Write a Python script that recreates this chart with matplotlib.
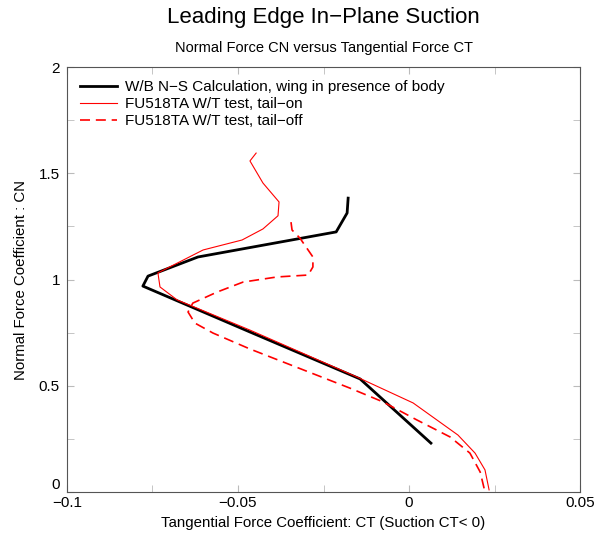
import matplotlib.pyplot as plt
from matplotlib.ticker import MultipleLocator

plt.rcParams['font.family'] = ['Liberation Sans', 'DejaVu Sans']

# W/B N-S calculation (wing in presence of body)
calc_ct = [0.0064, -0.0143, -0.0465, -0.0778, -0.0763, -0.0617, -0.0213, -0.0181, -0.0178]
calc_cn = [0.23, 0.532, 0.753, 0.969, 1.016, 1.106, 1.224, 1.313, 1.383]

# FU518TA wind tunnel test, tail-on
on_ct = [-0.0447, -0.0465, -0.0427, -0.0380, -0.0383, -0.0427, -0.0488, -0.0602, -0.0734,
         -0.0728, -0.0678, -0.0465, -0.0152, 0.0012, 0.0143, 0.0193, 0.0222, 0.0234]
on_cn = [1.595, 1.558, 1.454, 1.365, 1.30, 1.238, 1.186, 1.139, 1.031,
         0.965, 0.904, 0.762, 0.541, 0.419, 0.268, 0.183, 0.104, 0.01]

# FU518TA wind tunnel test, tail-off
off_ct = [-0.0345, -0.0342, -0.0319, -0.0281, -0.0281, -0.0295, -0.0386, -0.0485, -0.0561,
          -0.0632, -0.0646, -0.0626, -0.0573, -0.0465, -0.0173, -0.0076, 0.0023, 0.0120,
          0.0178, 0.0208, 0.0222]
off_cn = [1.27, 1.233, 1.195, 1.106, 1.059, 1.021, 1.012, 0.988, 0.941,
          0.889, 0.847, 0.795, 0.748, 0.673, 0.489, 0.424, 0.339, 0.259,
          0.183, 0.094, 0.0]

x_ticks = [-0.1, -0.05, 0, 0.05]
x_labels = ['\u22120.1', '\u22120.05', '0', '0.05']
y_ticks = [0, 0.5, 1, 1.5, 2]
y_labels = ['0', '0.5', '1', '1.5', '2']

fig = plt.figure(figsize=(6.03, 5.37), dpi=100)
ax = fig.add_axes([0.111, 0.0838, 0.851, 0.7914])

ax.plot(calc_ct, calc_cn, color='black', lw=2.0,
        label='W/B N\u2212S Calculation, wing in presence of body')
ax.plot(on_ct, on_cn, color='red', lw=0.8,
        label='FU518TA W/T test, tail\u2212on')
ax.plot(off_ct, off_cn, color='red', lw=1.2, dashes=(6, 3.5),
        label='FU518TA W/T test, tail\u2212off')

ax.set_xlim(-0.1, 0.05)
ax.set_ylim(0, 2)
ax.set_xticks(x_ticks)
ax.set_xticklabels(x_labels)
ax.set_yticks(y_ticks)
ax.set_yticklabels(y_labels)
ax.xaxis.set_minor_locator(MultipleLocator(0.025))
ax.yaxis.set_minor_locator(MultipleLocator(0.25))
ax.tick_params(which='both', direction='in', top=True, right=True,
               color='#bbbbbb', labelsize=11, length=5)
ax.tick_params(axis='x', pad=3)
ax.tick_params(axis='y', pad=5)
# lift the "0" label like the original so it clears "-0.1"
ax.get_yticklabels()[0].set_va('bottom')
for s in ax.spines.values():
    s.set_color('#555555')
    s.set_linewidth(0.8)

ax.set_xlabel('Tangential Force Coefficient: CT (Suction CT< 0)', fontsize=10.8, labelpad=4)
ax.set_ylabel('Normal Force Coefficient : CN', fontsize=10.8, labelpad=8)

ax.legend(loc='upper left', frameon=False, fontsize=11, handlelength=2.4,
          borderaxespad=0.45, labelspacing=0.2, handletextpad=0.55)

fig.text(0.537, 0.967, 'Leading Edge In\u2212Plane Suction', ha='center', va='center', fontsize=16)
fig.text(0.537, 0.91, 'Normal Force CN versus Tangential Force CT', ha='center', va='center', fontsize=10.5)

fig.savefig('out.png', dpi=100)
